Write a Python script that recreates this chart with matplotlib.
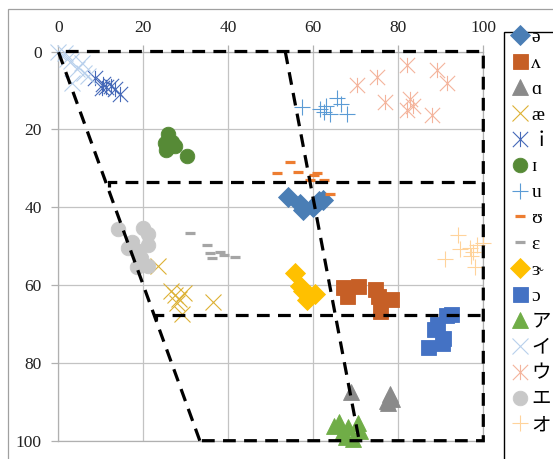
import matplotlib
matplotlib.use('Agg')
import matplotlib.pyplot as plt
from matplotlib.path import Path
from matplotlib.patches import Rectangle

plt.rcParams['font.family'] = ['Liberation Serif', 'DejaVu Serif', 'Noto Sans CJK JP']

# ---------------- data ----------------
labels = ['ə', 'ʌ', 'ɑ', 'æ', 'ｉ', 'ɪ', 'u', 'ʊ', 'ɛ', 'ɝ', 'ɔ', 'ア', 'イ', 'ウ', 'エ', 'オ']

schwa_x = [54.1, 56.9, 57.6, 60.0, 61.3, 62.3]
schwa_y = [37.5, 39.2, 40.8, 40.0, 38.4, 38.2]

wedge_x = [67.0, 70.5, 68.0, 74.5, 75.2, 78.3, 75.8]
wedge_y = [60.5, 60.3, 62.7, 61.0, 62.8, 63.5, 66.8]

alpha_x = [68.8, 77.5, 78.5, 78.0, 77.3]
alpha_y = [87.5, 90.3, 89.3, 88.0, 89.8]

ash_x = [23.5, 26.5, 27.5, 28.5, 29.5, 28.0, 29.0, 36.5]
ash_y = [55.0, 61.5, 62.5, 63.5, 62.0, 64.5, 67.5, 64.3]

i_x = [8.6, 10.5, 11.3, 12.3, 13.3, 14.5, 10.2]
i_y = [6.9, 8.3, 9.2, 8.8, 9.6, 10.8, 9.5]

smalli_x = [25.9, 25.0, 26.7, 25.3, 27.4, 30.2, 26.0]
smalli_y = [21.2, 23.5, 23.3, 25.2, 24.3, 26.9, 24.5]

u_x = [57.3, 61.5, 63.0, 65.5, 64.0, 68.0, 62.5, 66.5]
u_y = [14.2, 14.8, 14.0, 12.0, 16.0, 16.0, 15.5, 13.5]

upsilon_x = [54.4, 51.5, 56.5, 60.9, 60.2, 59.2, 62.4, 63.9]
upsilon_y = [28.3, 31.3, 30.9, 31.2, 31.8, 32.9, 32.9, 36.6]

epsilon_x = [31.0, 34.9, 35.6, 38.0, 36.2, 41.6, 39.0]
epsilon_y = [46.7, 49.6, 51.9, 51.6, 53.1, 52.9, 52.4]

rhotic_x = [55.7, 56.8, 57.5, 59.2, 60.4, 58.5]
rhotic_y = [57.0, 60.2, 61.5, 62.8, 62.4, 63.8]

openo_x = [91.3, 92.5, 89.0, 88.3, 90.5, 90.3, 87.1]
openo_y = [67.8, 67.5, 70.0, 71.3, 73.5, 75.0, 75.8]

a_jp_x = [64.8, 66.0, 68.2, 70.6, 67.8, 71.0, 69.4, 66.8]
a_jp_y = [96.2, 95.3, 96.5, 95.5, 99.0, 97.5, 99.5, 98.0]

i_jp_x = [0.0, 1.5, 3.0, 4.5, 6.0, 3.2, 7.0, 2.0, 5.5]
i_jp_y = [0.0, 0.5, 2.5, 4.5, 5.5, 8.0, 6.3, 2.0, 3.0]

u_jp_x = [70.2, 74.9, 82.0, 89.0, 91.4, 76.9, 82.8, 82.0, 87.9, 83.5]
u_jp_y = [8.6, 6.5, 3.5, 4.8, 8.2, 12.9, 12.3, 15.0, 16.3, 14.0]

e_jp_x = [14.0, 20.0, 21.2, 17.3, 16.5, 21.0, 18.8, 18.4, 21.2, 19.5]
e_jp_y = [45.5, 45.3, 46.8, 49.0, 50.6, 49.7, 51.3, 55.3, 55.0, 53.0]

o_jp_x = [94.1, 94.6, 91.0, 96.9, 97.6, 98.4, 100.0, 98.0, 97.2]
o_jp_y = [47.2, 50.8, 53.2, 50.6, 51.5, 49.7, 49.3, 55.3, 52.5]

# dashed guide lines (vowel trapezoid)
outline_x = [33.3, 0, 100, 100, 33.3]
outline_y = [100, 0, 0, 100, 100]
mid_x = [53.4, 70.8]
mid_y = [0, 100]
upper_div_x = [11.9, 11.9, 100]
upper_div_y = [34.9, 33.5, 33.5]
lower_div_x = [23.1, 23.1, 100]
lower_div_y = [69.0, 67.7, 67.7]

series_x = [schwa_x, wedge_x, alpha_x, ash_x, i_x, smalli_x, u_x, upsilon_x,
            epsilon_x, rhotic_x, openo_x, a_jp_x, i_jp_x, u_jp_x, e_jp_x, o_jp_x]
series_y = [schwa_y, wedge_y, alpha_y, ash_y, i_y, smalli_y, u_y, upsilon_y,
            epsilon_y, rhotic_y, openo_y, a_jp_y, i_jp_y, u_jp_y, e_jp_y, o_jp_y]

# ---------------- styles ----------------
star = Path([(-1, -1), (1, 1), (-1, 1), (1, -1), (0, -1), (0, 1)],
            [Path.MOVETO, Path.LINETO] * 3)

styles = [
    dict(marker='D', color='#4A7EB5', ms=10.2, filled=True),
    dict(marker='s', color='#C65F26', ms=10.8, filled=True),
    dict(marker='^', color='#8A8A8A', ms=11, filled=True),
    dict(marker='x', color='#DDB135', ms=11, filled=False),
    dict(marker=star, color='#4669B8', ms=11, filled=False),
    dict(marker='o', color='#568A36', ms=10.5, filled=True),
    dict(marker='+', color='#5B9BD5', ms=11, filled=False),
    dict(marker='_', color='#ED7D31', ms=7, filled=False, mew=2.3),
    dict(marker='_', color='#A5A5A5', ms=7, filled=False, mew=2.3),
    dict(marker='D', color='#FFC000', ms=10.2, filled=True),
    dict(marker='s', color='#4472C4', ms=10.8, filled=True),
    dict(marker='^', color='#70AD47', ms=11, filled=True),
    dict(marker='x', color='#B8D0EC', ms=11, filled=False),
    dict(marker=star, color='#F4B49C', ms=11, filled=False),
    dict(marker='o', color='#C8C8C8', ms=10.5, filled=True),
    dict(marker='+', color='#FFD39B', ms=11, filled=False),
]

W, H = 553, 459
fig = plt.figure(figsize=(W / 100, H / 100), dpi=100)

# chart border
fig.patches.append(Rectangle((8 / W, -0.1), 1.2, 1 - 9 / H + 0.1, transform=fig.transFigure,
                             fill=False, edgecolor='#A0A0A0', lw=0.9))

x0, x1 = 58.3, 483.3
y0, y1 = 51.5, 440.7
ax = fig.add_axes([x0 / W, 1 - y1 / H, (x1 - x0) / W, (y1 - y0) / H])
ax.set_xlim(0, 100)
ax.set_ylim(100, 0)
ax.xaxis.tick_top()
ax.set_xticks(range(0, 101, 20))
ax.set_yticks(range(0, 101, 20))
ax.grid(True, color='#C3C3C3', lw=0.9)
ax.set_axisbelow(True)
for sp in ax.spines.values():
    sp.set_color('#B0B0B0')
    sp.set_linewidth(0.9)
ax.tick_params(axis='both', length=5, color='#B0B0B0', width=0.9,
               labelsize=12.5, labelcolor='#222222')
ax.tick_params(axis='x', pad=6)
ax.tick_params(axis='y', pad=7)

handles = []
for xs, ys, st in zip(series_x, series_y, styles):
    kw = dict(linestyle='none', marker=st['marker'], markersize=st['ms'],
              clip_on=False, zorder=3)
    if st['filled']:
        kw.update(markerfacecolor=st['color'], markeredgecolor=st['color'], markeredgewidth=0.6)
    else:
        kw.update(color=st['color'], markeredgewidth=st.get('mew', 0.8))
    h, = ax.plot(xs, ys, **kw)
    handles.append(h)

dash = (0, (4, 2.6))
for lx, ly in [(outline_x, outline_y), (mid_x, mid_y), (upper_div_x, upper_div_y),
               (lower_div_x, lower_div_y)]:
    ax.plot(lx, ly, color='black', lw=2.3, linestyle=dash, clip_on=False, zorder=5,
            solid_joinstyle='miter', dash_joinstyle='miter')

# legend box
fig.patches.append(Rectangle((504 / W, -0.1), 0.2, 1 - 32 / H + 0.1, transform=fig.transFigure,
                             facecolor='white', edgecolor='black', lw=1.0, zorder=1))
leg = fig.legend(handles, labels, loc='upper left',
                 bbox_to_anchor=(510 / W, 1 - 28.5 / H), frameon=False,
                 fontsize=14, labelspacing=0.425, handlelength=1.0, handletextpad=0.1,
                 borderpad=0, borderaxespad=0, numpoints=1)

fig.savefig('out.png', dpi=100)
